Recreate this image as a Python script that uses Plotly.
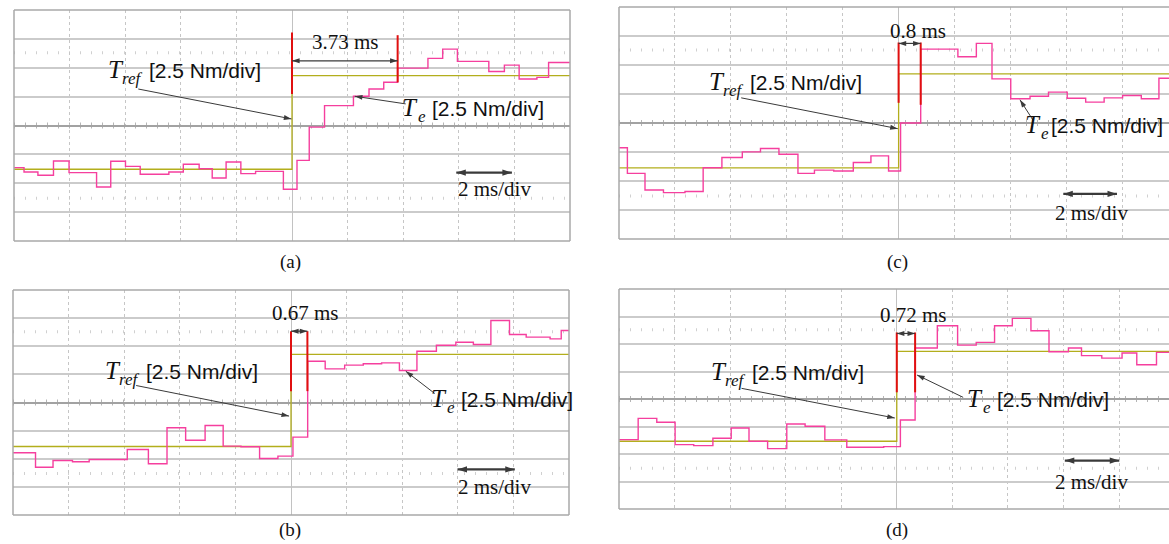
import math
import plotly.graph_objects as go

# ------------------------------------------------------------------
# DATA  (time in ms relative to the torque step, torque in Nm)
# ------------------------------------------------------------------
# panel (a)
a_te_t = [-10, -9.64, -9.14, -8.58, -8.02, -7.03, -6.52, -5.99, -5.46, -4.43, -3.91,
          -3.34, -2.87, -2.37, -1.84, -1.31, -0.31, 0.18, 0.62, 1.17, 2.21, 2.77,
          3.30, 3.80, 4.89, 5.42, 5.95, 7.08, 7.64, 8.17, 8.81, 9.23, 10.0]
a_te_v = [-3.65, -4.02, -4.31, -3.08, -4.08, -5.32, -3.10, -3.54, -4.22, -4.02, -3.36,
          -3.74, -4.54, -3.16, -4.17, -3.97, -5.52, -3.02, -0.14, 1.72, 2.53, 3.16,
          3.74, 4.97, 5.81, 6.61, 5.55, 4.68, 5.23, 4.02, 4.17, 5.46, 5.46]
a_ref_t = [-10, 0, 10]
a_ref_v = [-3.79, 4.31, 4.31]
a_cursor_t = [0, 3.80]
a_cursor_lo = [2.73, 3.74]
a_cursor_hi = [8.05, 7.82]
a_label = "3.73 ms"

# panel (c)
c_te_t = [-10, -9.70, -9.07, -8.41, -7.64, -6.99, -6.32, -5.59, -4.94, -4.28, -3.60,
          -3.01, -2.32, -1.62, -0.99, -0.36, 0.07, 0.79, 2.12, 2.78, 3.34, 4.01,
          4.70, 5.36, 6.03, 6.69, 7.35, 8.01, 8.68, 9.31, 9.7]
c_te_v = [-2.14, -4.34, -5.77, -6.00, -5.91, -3.86, -2.97, -2.49, -2.20, -2.69, -4.34,
          -4.06, -4.14, -3.40, -2.83, -4.14, 0.0, 6.37, 5.71, 6.86, 3.80, 2.09,
          2.31, 2.66, 2.14, 1.80, 2.17, 2.37, 2.09, 3.86, 3.86]
c_ref_t = [-10, 0, 9.7]
c_ref_v = [-3.86, 4.23, 4.23]
c_cursor_t = [0, 0.79]
c_cursor_lo = [1.74, 1.57]
c_cursor_hi = [6.94, 6.94]
c_label = "0.8 ms"

# panel (b)
b_te_t = [-10, -9.19, -8.56, -7.86, -7.26, -5.89, -5.13, -4.46, -3.79, -3.09, -2.44,
          -1.80, -1.13, -0.47, 0.07, 0.60, 1.23, 1.93, 2.60, 3.26, 3.90, 4.53,
          5.23, 5.93, 6.56, 7.19, 7.86, 8.46, 9.32, 9.72, 10.0]
b_te_v = [-4.47, -5.75, -5.15, -5.27, -5.07, -4.18, -5.45, -2.25, -3.35, -2.04, -3.88,
          -3.94, -4.98, -4.77, -3.08, 3.67, 2.99, 3.32, 3.44, 3.52, 2.84, 4.56,
          5.09, 5.36, 5.15, 7.29, 6.04, 5.81, 5.66, 6.40, 6.40]
b_ref_t = [-10, 0, 10]
b_ref_v = [-3.91, 4.27, 4.27]
b_cursor_t = [0, 0.59]
b_cursor_lo = [1.01, 1.01]
b_cursor_hi = [6.34, 6.34]
b_label = "0.67 ms"

# panel (d)
d_te_t = [-10, -9.31, -8.64, -7.98, -7.31, -6.62, -5.96, -5.32, -4.65, -3.96, -3.30,
          -2.59, -1.80, -0.47, 0.13, 0.66, 1.46, 2.19, 2.86, 3.52, 4.16, 4.83,
          5.48, 6.18, 6.65, 7.38, 8.11, 8.64, 9.35, 9.8]
d_te_v = [-3.69, -1.76, -2.12, -4.15, -4.24, -3.57, -2.63, -3.84, -4.51, -2.27, -2.48,
          -3.72, -4.39, -4.33, -1.91, 4.63, 6.66, 4.90, 5.15, 6.66, 7.33, 6.21,
          4.30, 4.63, 3.94, 3.72, 4.18, 3.12, 4.24, 4.24]
d_ref_t = [-10, 0, 9.8]
d_ref_v = [-3.84, 4.33, 4.33]
d_cursor_t = [0, 0.66]
d_cursor_lo = [0.61, 0.61]
d_cursor_hi = [6.05, 6.05]
d_label = "0.72 ms"

panel_letters = ["(a)", "(c)", "(b)", "(d)"]
time_div_text = "2 ms/div"
scale_text = "[2.5 Nm/div]"
sym_text = "T"
sub_ref_text = "ref"
sub_e_text = "e"

# ------------------------------------------------------------------
# LAYOUT / STYLE
# ------------------------------------------------------------------
W, H = 1169, 544
PINK = "#f53f9e"
YEL = "#b3ae1c"
RED = "#e01010"
ARROW = "#3a3a3a"
GRID_H = "#cbcbcb"
GRID_V = "#c6c6c6"
BORDER = "#a9a9a9"
SERIF = "Liberation Serif"
SANS = "Liberation Sans"
TXT = "#111111"


def px_x(p):
    return p / W


def px_y(p):
    return 1 - p / H


# (left px, right px, top px, bottom px, x range, right border shown)
geo = [
    (14, 570, 10, 241, [-10, 10], True),
    (619, 1169, 7, 239, [-10, 9.67], False),
    (13, 569, 290, 515, [-10, 10], True),
    (619, 1169, 289, 509, [-10, 9.8], False),
]
Y_RANGE = [-10, 10]

series = [
    (a_te_t, a_te_v, a_ref_t, a_ref_v, a_cursor_t, a_cursor_lo, a_cursor_hi, a_label),
    (c_te_t, c_te_v, c_ref_t, c_ref_v, c_cursor_t, c_cursor_lo, c_cursor_hi, c_label),
    (b_te_t, b_te_v, b_ref_t, b_ref_v, b_cursor_t, b_cursor_lo, b_cursor_hi, b_label),
    (d_te_t, d_te_v, d_ref_t, d_ref_v, d_cursor_t, d_cursor_lo, d_cursor_hi, d_label),
]

# annotation placement per panel (data coordinates); label anchors = left edge of "["
place = [
    dict(meas_y=5.6, meas_txt=(1.94, 7.19), tref_at=(-5.13, 4.74), te_at=(5.02, 1.44),
         te_gap=-2, tref_arr=((-5.53, 3.16), (-0.02, 0.57)), te_arr=((4.09, 1.87), (2.26, 2.53)),
         div_arr=(5.91, 7.91, -4.08), div_txt=(7.28, -5.52), letter=(290, 262)),
    dict(meas_y=6.86, meas_txt=(0.70, 7.94), tref_at=(-5.30, 3.51), te_at=(5.60, -0.2),
         te_gap=-6, tref_arr=((-5.63, 2.17), (-0.03, -0.49)), te_arr=((4.81, 0.23), (4.34, 2.0)),
         div_arr=(5.89, 7.81, -6.11), div_txt=(6.91, -7.8), letter=(897, 262)),
    dict(meas_y=6.34, meas_txt=(0.53, 7.97), tref_at=(-5.22, 2.78), te_at=(6.13, 0.27),
         te_gap=-2, tref_arr=((-5.57, 1.51), (-0.07, -1.21)), te_arr=((5.17, 0.80), (4.13, 2.78)),
         div_arr=(5.99, 8.05, -5.95), div_txt=(7.33, -7.52), letter=(290, 530)),
    dict(meas_y=5.96, meas_txt=(0.6, 7.66), tref_at=(-5.21, 2.42), te_at=(3.59, -0.09),
         te_gap=-2, tref_arr=((-5.59, 0.97), (-0.07, -1.73)), te_arr=((2.39, 0.15), (0.73, 2.18)),
         div_arr=(6.05, 8.01, -5.6), div_txt=(7.0, -7.57), letter=(897, 530)),
]

fig = go.Figure()
layout = dict(width=W, height=H, margin=dict(l=0, r=0, t=0, b=0),
              paper_bgcolor="white", plot_bgcolor="white", showlegend=False)
shapes = []
annotations = []


def add_arrow(xs, ys, heads, xref, yref, sx, sy, size, width):
    """xs/ys: polyline; heads: list of (tip index, from index)."""
    fig.add_trace(go.Scatter(x=xs, y=ys, mode="lines", xaxis=xref, yaxis=yref,
                             line=dict(color=ARROW, width=width), hoverinfo="skip"))
    hx, hy, ang = [], [], []
    for tip, frm in heads:
        dx = (xs[tip] - xs[frm]) * sx
        dy = (ys[tip] - ys[frm]) * sy
        hx.append(xs[tip])
        hy.append(ys[tip])
        ang.append(math.degrees(math.atan2(dx, dy)))
    fig.add_trace(go.Scatter(x=hx, y=hy, mode="markers", xaxis=xref, yaxis=yref,
                             marker=dict(symbol="arrow", size=size, angle=ang,
                                         color=ARROW, line=dict(width=0)),
                             hoverinfo="skip"))


def add_label(sub, at, xref, yref, gap=-2):
    x, y = at
    common = dict(x=x, y=y, xref=xref, yref=yref, showarrow=False, yanchor="middle")
    sub_w = 19 if len(sub) > 1 else 8
    annotations.append(dict(text=scale_text, xanchor="left", xshift=gap,
                            font=dict(family=SANS, size=21, color=TXT), **common))
    annotations.append(dict(text="<i>%s</i>" % sub, xanchor="right", xshift=-4, yshift=-8,
                            font=dict(family=SERIF, size=17, color=TXT), **common))
    annotations.append(dict(text="<i>%s</i>" % sym_text, xanchor="right",
                            xshift=-4 - sub_w, yshift=1,
                            font=dict(family=SERIF, size=25, color=TXT), **common))


for i, ((l, r, t, b, xr, rborder), s, p) in enumerate(zip(geo, series, place)):
    n = "" if i == 0 else str(i + 1)
    xa, ya = "xaxis" + n, "yaxis" + n
    xref, yref = "x" + n, "y" + n
    sx = (r - l) / (xr[1] - xr[0])
    sy = (b - t) / (Y_RANGE[1] - Y_RANGE[0])
    layout[xa] = dict(domain=[px_x(l), px_x(r)], range=xr, anchor=yref,
                      showticklabels=False, ticks="", showline=False,
                      showgrid=True, dtick=2, tick0=0, gridcolor=GRID_V, griddash="dot",
                      gridwidth=1, zeroline=True, zerolinecolor="#c2c2c2", zerolinewidth=1.2,
                      fixedrange=True)
    layout[ya] = dict(domain=[px_y(b), px_y(t)], range=Y_RANGE, anchor=xref,
                      showticklabels=False, ticks="", showline=False,
                      showgrid=True, dtick=2.5, tick0=0, gridcolor=GRID_H, gridwidth=2,
                      zeroline=True, zerolinecolor="#a2a2a2", zerolinewidth=1.5,
                      fixedrange=True)

    te_t, te_v, rf_t, rf_v, cur_t, cur_lo, cur_hi, lab = s

    # dotted tick rows and centre-line ticks
    for yy, w in ((6.3, 3), (-6.3, 3), (0, 6)):
        shapes.append(dict(type="line", xref=xref + " domain", yref=yref,
                           x0=0, x1=1, y0=yy, y1=yy, layer="below",
                           line=dict(color="#b5b5b5" if yy == 0 else "#d0d0d0",
                                     width=w, dash="1px,10px")))
    # border
    sides = [(0, 1, 0, 0), (0, 1, 1, 1), (0, 0, 0, 1)]
    if rborder:
        sides.append((1, 1, 0, 1))
    for (x0, x1, y0, y1) in sides:
        shapes.append(dict(type="line", xref=xref + " domain", yref=yref + " domain",
                           x0=x0, x1=x1, y0=y0, y1=y1, layer="above",
                           line=dict(color=BORDER, width=1.5)))

    fig.add_trace(go.Scatter(x=rf_t, y=rf_v, mode="lines", line_shape="hv",
                             line=dict(color=YEL, width=1.3), xaxis=xref, yaxis=yref,
                             hoverinfo="skip"))
    fig.add_trace(go.Scatter(x=te_t, y=te_v, mode="lines", line_shape="hv",
                             line=dict(color=PINK, width=1.4), xaxis=xref, yaxis=yref,
                             hoverinfo="skip"))
    for ct, lo, hi in zip(cur_t, cur_lo, cur_hi):
        fig.add_trace(go.Scatter(x=[ct, ct], y=[lo, hi], mode="lines",
                                 line=dict(color=RED, width=2), xaxis=xref, yaxis=yref,
                                 hoverinfo="skip"))

    # measurement double arrow
    my = p["meas_y"]
    add_arrow([cur_t[0], cur_t[1]], [my, my], [(0, 1), (1, 0)], xref, yref, sx, sy, 8, 1.2)
    # label arrows
    for (fx, fy), (tx, ty) in (p["tref_arr"], p["te_arr"]):
        add_arrow([fx, tx], [fy, ty], [(1, 0)], xref, yref, sx, sy, 8, 1)
    # time/div arrow
    x0, x1, yy = p["div_arr"]
    add_arrow([x0, x1], [yy, yy], [(0, 1), (1, 0)], xref, yref, sx, sy, 10, 2.2)

    annotations.append(dict(text=lab, x=p["meas_txt"][0], y=p["meas_txt"][1], showarrow=False,
                            font=dict(family=SERIF, size=21, color=TXT),
                            xref=xref, yref=yref, xanchor="center", yanchor="middle"))
    add_label(sub_ref_text, p["tref_at"], xref, yref)
    add_label(sub_e_text, p["te_at"], xref, yref, p["te_gap"])
    annotations.append(dict(text=time_div_text, x=p["div_txt"][0], y=p["div_txt"][1],
                            showarrow=False, font=dict(family=SERIF, size=21, color=TXT),
                            xref=xref, yref=yref, xanchor="center", yanchor="middle"))
    lx, ly = p["letter"]
    annotations.append(dict(text=panel_letters[i], x=px_x(lx), y=px_y(ly), xref="paper",
                            yref="paper", showarrow=False, xanchor="center",
                            yanchor="middle", font=dict(family=SERIF, size=19, color=TXT)))

layout["shapes"] = shapes
layout["annotations"] = annotations
fig.update_layout(**layout)
fig.write_html("out.html")
